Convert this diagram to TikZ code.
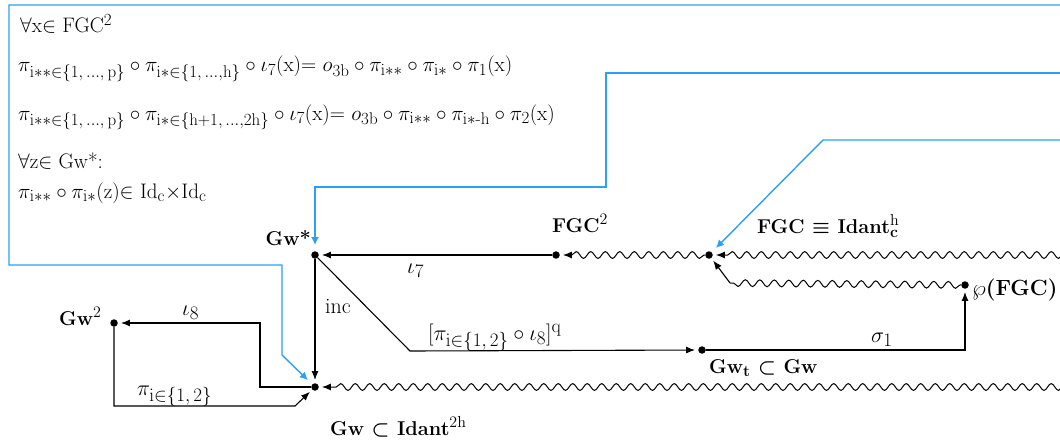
\RequirePackage{fix-cm}
\documentclass[tikz,border=0pt]{standalone}
\usepackage{amsmath}
\usetikzlibrary{arrows.meta,decorations.pathmorphing}
\DeclareMathSizes{21}{21}{17}{13}
\DeclareMathSizes{20}{20}{16}{12}
\DeclareMathSizes{22}{22}{19}{15}
\definecolor{lineblue}{RGB}{45,160,245}
\begin{document}
\begin{tikzpicture}[x=1pt,y=-1pt,
  dot/.style={circle,fill=black,inner sep=0pt,minimum size=7.5pt},
  arr/.style={-{Latex[length=9pt,width=7pt]},line width=1.1pt,shorten >=3pt},
  wavyline/.style={line width=1pt,decorate,decoration={snake,segment length=14.5pt,amplitude=3.4pt,pre length=1pt,post length=1pt}},
  wavy/.style={-{Latex[length=9pt,width=7pt]},line width=1pt,shorten >=3pt,decorate,decoration={snake,segment length=14.5pt,amplitude=3.4pt,pre length=1pt,post length=11pt}},
  bluearr/.style={draw=lineblue,line width=1.4pt,-{Latex[length=8pt,width=8pt]}},
  lbl/.style={inner sep=0pt,anchor=base west,font=\fontsize{22}{26}\selectfont},
  bl/.style={inner sep=0pt,anchor=base west,font=\fontsize{20}{24}\selectfont\bfseries},
  txt/.style={inner sep=0pt,anchor=base west,font=\fontsize{21}{25}\selectfont}]
\useasboundingbox (0,0) rectangle (1060,444);

% dots
\node[dot] (gws)  at (315,255) {};
\node[dot] (fgc2) at (556,255) {};
\node[dot] (fgch) at (709,255) {};
\node[dot] (wp)   at (965,285) {};
\node[dot] (gwt)  at (702,350) {};
\node[dot] (gw)   at (315,387) {};
\node[dot] (gw2)  at (114,323) {};

% helper coordinates
\coordinate (k1) at (410,351);
\coordinate (k2) at (260,387);
\coordinate (k3) at (295,406);
\coordinate (k4) at (730,283);
\coordinate (e1) at (1064,255);
\coordinate (e2) at (1064,387);
\coordinate (b1) at (1064,5);
\coordinate (b2) at (1064,73);
\coordinate (b3) at (1064,140);

% black connectors
\draw[arr] (fgc2) -- (gws);
\draw[arr] (gws) -- (gw);
\draw[arr] (gws) -- (k1) -- (gwt);
\draw[arr] (gw) -- (k2) |- (gw2);
\draw[arr] (gw2) |- (k3) -- (gw);
\draw[arr] (gwt) -| (wp);
\draw[wavyline] (wp) -- (k4);
\draw[arr] (k4) -- (fgch);
\draw[wavy] (e1) -- (fgch);
\draw[wavy] (fgch) -- (fgc2);
\draw[wavy] (e2) -- (gw);

% blue connectors
\draw[bluearr,shorten >=6pt] (b1) -- (9,5) -- (9,265) -- (282,265) -- (282,355) -- (gw);
\draw[bluearr,shorten >=6pt] (b2) -- (606,73) -- (606,187) -- (315,187) -- (gws);
\draw[bluearr,shorten >=6pt] (b3) -- (823,140) -- (fgch);

% diagram labels
\node[bl,anchor=base east] (lgws) at (311,245) {Gw*};
\node[bl] (lfgc2) at (552,232) {FGC$^{\mathrm{2}}$};
\node[bl] (lfgch) at (757,233) {FGC $\boldsymbol{\equiv}$ Idant$_{\mathbf{c}}^{\mathrm{h}}$};
\node[bl] (lgw2) at (59,325) {Gw$^{\mathrm{2}}$};
\node[bl] (lgw) at (330,435) {Gw $\boldsymbol{\subset}$ Idant$^{\mathrm{2h}}$};
\node[bl] (lgwt) at (709,373) {Gw$_{\mathbf{t}}$ $\boldsymbol{\subset}$ Gw};
\node[lbl] (lwp) at (972,295) {$\wp$\textbf{(FGC)}};
\node[lbl] (lsig) at (871,342) {$\sigma_1$};
\node[lbl] (li8) at (182,315) {$\iota_8$};
\node[lbl] (lpi) at (137,395) {$\pi_{\mathrm{i}\in\{1,\,2\}}$};
\node[lbl] (linc) at (325,313) {inc};
\node[lbl] (li7) at (407,273) {$\iota_7$};
\node[lbl] (lq) at (428,340) {$[\pi_{\mathrm{i}\in\{1,\,2\}}\circ\iota_8]^{\mathrm{q}}$};

% text block
\node[txt] (t1) at (20,33) {$\forall$x$\in$ FGC$^{2}$};
\node[txt] (t2) at (18,72) {$\pi_{\mathrm{i}**\in\{1,\,...,\,\mathrm{p}\}}\circ\pi_{\mathrm{i}*\in\{1,\,...,\mathrm{h}\}}\circ\iota_7$(x)= $o_{3\mathrm{b}}\circ\pi_{\mathrm{i}**}\circ\pi_{\mathrm{i}*}\circ\pi_1$(x)};
\node[txt] (t3) at (18,120) {$\pi_{\mathrm{i}**\in\{1,\,...,\,\mathrm{p}\}}\circ\pi_{\mathrm{i}*\in\{\mathrm{h}+1,\,...,2\mathrm{h}\}}\circ\iota_7$(x)= $o_{3\mathrm{b}}\circ\pi_{\mathrm{i}**}\circ\pi_{\mathrm{i}*\text{-}\mathrm{h}}\circ\pi_2$(x)};
\node[txt] (t4) at (18,168) {$\forall$z$\in$ Gw*:};
\node[txt] (t5) at (18,198) {$\pi_{\mathrm{i}**}\circ\pi_{\mathrm{i}*}$(z)$\in$ Id$_{\mathrm{c}}\times$Id$_{\mathrm{c}}$};
\end{tikzpicture}
\end{document}
